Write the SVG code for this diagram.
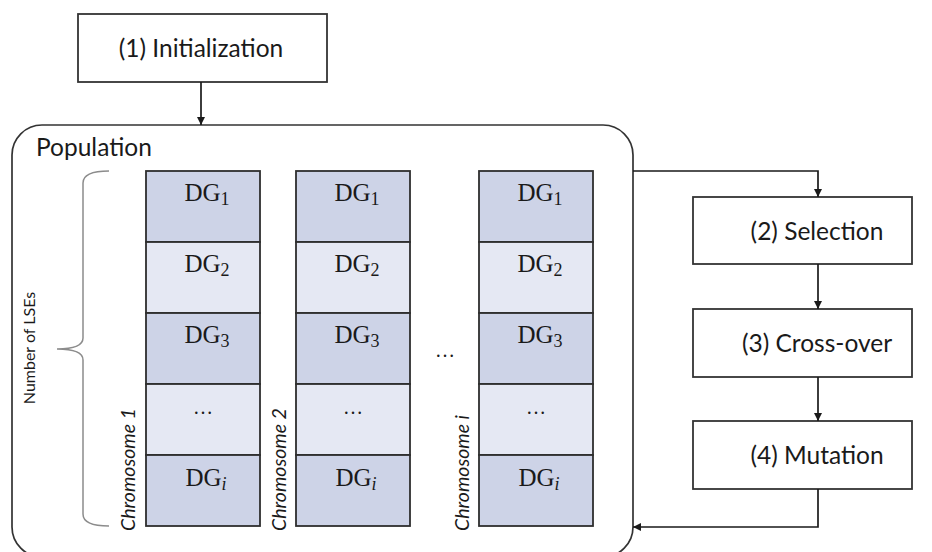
<svg xmlns="http://www.w3.org/2000/svg" width="932" height="552" viewBox="0 0 932 552">
<defs>
<marker id="ah" viewBox="0 0 10 10" refX="10" refY="5" markerWidth="8" markerHeight="8" markerUnits="userSpaceOnUse" orient="auto">
<path d="M0,0 L10,5 L0,10 z" fill="#1a1a1a"/>
</marker>
<style>
.box{fill:#ffffff;stroke:#333333;stroke-width:1.8}
.lbl{font-family:Lato,"Open Sans",sans-serif;font-size:24.5px;fill:#1a1a1a;text-anchor:middle}
.dk{fill:#cdd3e7;stroke:#2e2e2e;stroke-width:1.8}
.lt{fill:#e5e8f3;stroke:#2e2e2e;stroke-width:1.8}
.dg{font-family:"Liberation Serif","DejaVu Serif",serif;font-size:25px;fill:#1a1a1a;text-anchor:middle}
.sub{font-size:18px}
.dots{font-family:"Liberation Serif","DejaVu Serif",serif;font-size:20px;fill:#1a1a1a;text-anchor:middle}
.chr{font-family:Lato,"Open Sans",sans-serif;font-style:italic;font-size:19.5px;fill:#1a1a1a;text-anchor:start}
.con{fill:none;stroke:#1a1a1a;stroke-width:1.7}
</style>
</defs>

<g id="population">
<rect x="12" y="125" width="621" height="432" rx="30" ry="30" fill="#ffffff" stroke="#333333" stroke-width="1.7"/>
<text x="36" y="156" font-family="Lato, 'Open Sans', sans-serif" font-size="24.5" fill="#1a1a1a">Population</text>
</g>

<g id="initialization">
<rect class="box" x="78" y="14" width="249" height="68"/>
<text class="lbl" x="201" y="57">(1) Initialization</text>
</g>

<g id="selection">
<rect class="box" x="693" y="197" width="219" height="67"/>
<text class="lbl" x="817" y="240">(2) Selection</text>
</g>

<g id="crossover">
<rect class="box" x="693" y="309" width="219" height="68"/>
<text class="lbl" x="817" y="352">(3) Cross-over</text>
</g>

<g id="mutation">
<rect class="box" x="693" y="421" width="219" height="68"/>
<text class="lbl" x="817" y="464">(4) Mutation</text>
</g>

<g id="brace">
<path d="M109,171 Q83,171 83,183 L83,338 Q83,349 57,349 Q83,349 83,360 L83,514 Q83,526 109,526" fill="none" stroke="#8c8c8c" stroke-width="1.5"/>
<text x="35" y="348" transform="rotate(-90 35 348)" font-family="Lato, 'Open Sans', sans-serif" font-size="16" fill="#1a1a1a" text-anchor="middle">Number of LSEs</text>
</g>

<g id="chromosome1">
<rect class="dk" x="146" y="171" width="114" height="71"/>
<rect class="lt" x="146" y="242" width="114" height="71"/>
<rect class="dk" x="146" y="313" width="114" height="71"/>
<rect class="lt" x="146" y="384" width="114" height="71"/>
<rect class="dk" x="146" y="455" width="114" height="71"/>
<text class="dg" x="207" y="201">DG<tspan class="sub" dy="4">1</tspan></text>
<text class="dg" x="207" y="272">DG<tspan class="sub" dy="4">2</tspan></text>
<text class="dg" x="207" y="343">DG<tspan class="sub" dy="4">3</tspan></text>
<text class="dots" x="203" y="414">…</text>
<text class="dg" x="206" y="486">DG<tspan class="sub" dy="4" font-style="italic">i</tspan></text>
<text class="chr" x="135" y="531" transform="rotate(-90 135 531)">Chromosome 1</text>
</g>

<g id="chromosome2">
<rect class="dk" x="296" y="171" width="114" height="71"/>
<rect class="lt" x="296" y="242" width="114" height="71"/>
<rect class="dk" x="296" y="313" width="114" height="71"/>
<rect class="lt" x="296" y="384" width="114" height="71"/>
<rect class="dk" x="296" y="455" width="114" height="71"/>
<text class="dg" x="357" y="201">DG<tspan class="sub" dy="4">1</tspan></text>
<text class="dg" x="357" y="272">DG<tspan class="sub" dy="4">2</tspan></text>
<text class="dg" x="357" y="343">DG<tspan class="sub" dy="4">3</tspan></text>
<text class="dots" x="353" y="414">…</text>
<text class="dg" x="356" y="486">DG<tspan class="sub" dy="4" font-style="italic">i</tspan></text>
<text class="chr" x="286" y="531" transform="rotate(-90 286 531)">Chromosome 2</text>
</g>

<g id="chromosomei">
<rect class="dk" x="479" y="171" width="114" height="71"/>
<rect class="lt" x="479" y="242" width="114" height="71"/>
<rect class="dk" x="479" y="313" width="114" height="71"/>
<rect class="lt" x="479" y="384" width="114" height="71"/>
<rect class="dk" x="479" y="455" width="114" height="71"/>
<text class="dg" x="540" y="201">DG<tspan class="sub" dy="4">1</tspan></text>
<text class="dg" x="540" y="272">DG<tspan class="sub" dy="4">2</tspan></text>
<text class="dg" x="540" y="343">DG<tspan class="sub" dy="4">3</tspan></text>
<text class="dots" x="536" y="414">…</text>
<text class="dg" x="539" y="486">DG<tspan class="sub" dy="4" font-style="italic">i</tspan></text>
<text class="chr" x="469" y="531" transform="rotate(-90 469 531)">Chromosome i</text>
</g>

<g id="ellipsis">
<text class="dots" x="445" y="357">…</text>
</g>

<g id="connectors">
<path class="con" d="M201,82 V125" marker-end="url(#ah)"/>
<path class="con" d="M633,171 H818 V197" marker-end="url(#ah)"/>
<path class="con" d="M818,264 V309" marker-end="url(#ah)"/>
<path class="con" d="M818,377 V421" marker-end="url(#ah)"/>
<path class="con" d="M818,489 V527 H633" marker-end="url(#ah)"/>
</g>
</svg>
